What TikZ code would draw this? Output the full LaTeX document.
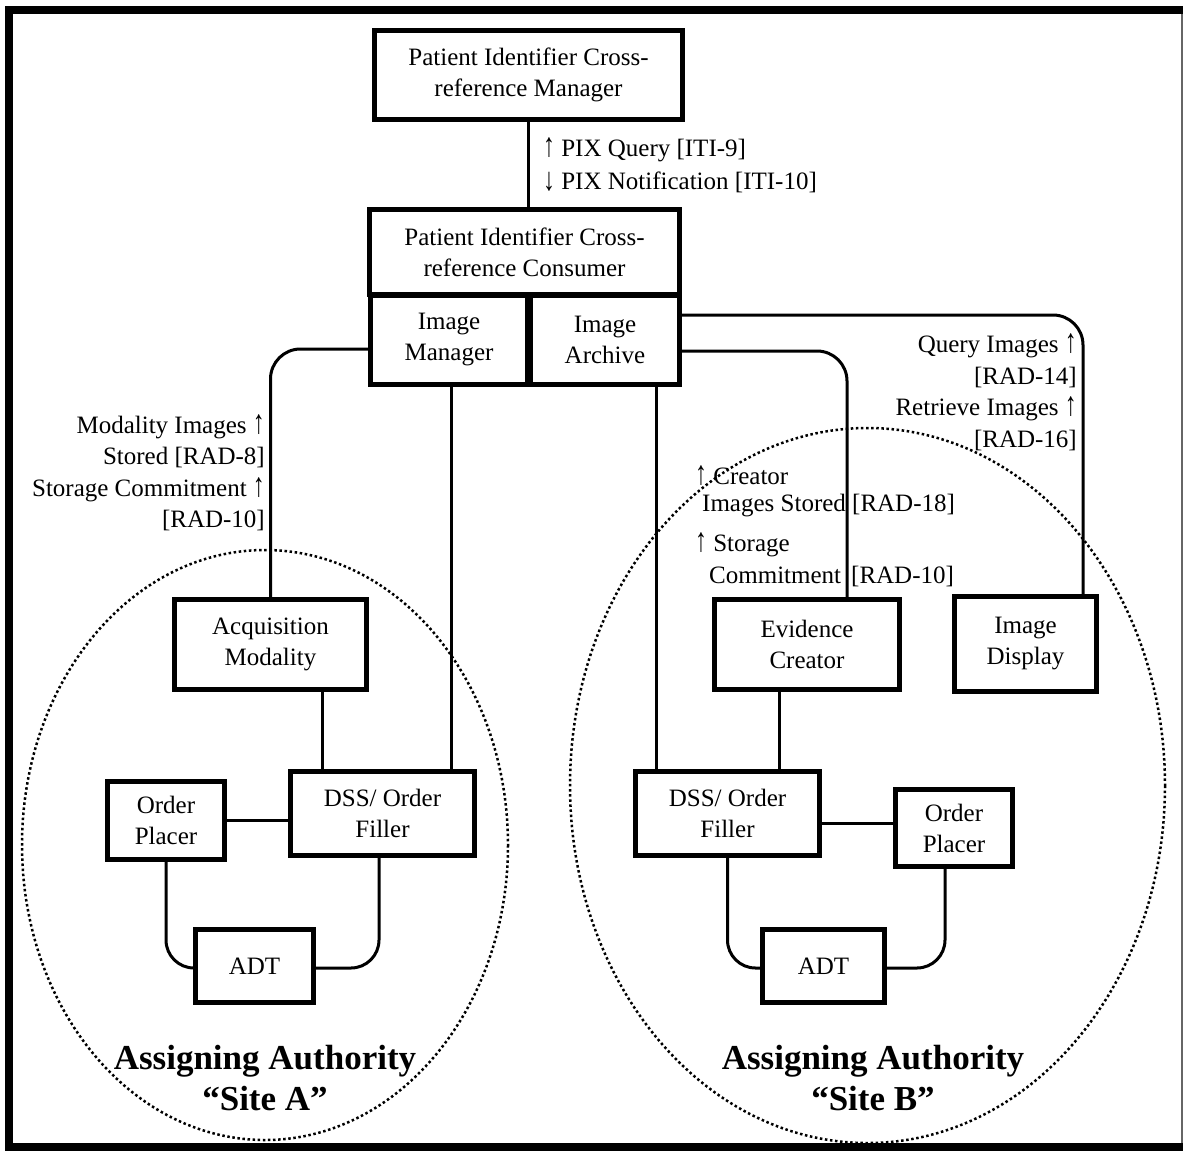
\documentclass[tikz,border=0pt]{standalone}
\usepackage{fontspec}
\usepackage{graphicx}
\setmainfont{Liberation Serif}
\newcommand\myup{\scalebox{0.95}[1.35]{↑}}
\newcommand\mydown{\raisebox{-1pt}{\scalebox{0.95}[1.3]{↓}}}
\begin{document}
\begin{tikzpicture}[x=1pt,y=-1pt,
  box/.style={draw, line width=5pt, rectangle, fill=white, align=center, inner sep=0pt, font=\fontsize{25}{31}\selectfont},
  lbl/.style={inner sep=0pt, font=\fontsize{25}{31.5}\selectfont},
  conn/.style={line width=3pt},
  site/.style={draw, dash pattern=on 2.5pt off 2.6pt, line width=2.5pt},
  big/.style={inner sep=0pt, align=center, font=\fontsize{35}{41}\selectfont\bfseries}]
\useasboundingbox (0,0) rectangle (1183,1151);
% frame
\draw[line width=8pt] (1183,10) -- (9,10) -- (9,1147) -- (1183,1147);
\draw[line width=1.2pt, black!60] (1182,14) -- (1182,1143);
% site ellipses
\draw[site] (265,845) ellipse [x radius=243, y radius=295];
\draw[site] (867.5,785.5) ellipse [x radius=297.5, y radius=357.5];
% boxes
\node[box, minimum width=308pt, minimum height=89pt] (pixm) at (528.5,75) {Patient Identifier Cross-\\reference Manager};
\node[box, minimum width=310pt, minimum height=85pt] (pixc) at (524.5,252) {Patient Identifier Cross-\\reference Consumer};
\node[box, minimum width=157pt, minimum height=89pt] (imgm) at (449,340) {Image\\Manager};
\node[box, minimum width=149pt, minimum height=89pt] (imga) at (605,340) {Image\\Archive};
\node[box, minimum width=192pt, minimum height=90pt] (acq) at (270.5,644.5) {Acquisition\\Modality};
\node[box, minimum width=185pt, minimum height=90pt] (evid) at (807,644.5) {Evidence\\Creator};
\node[box, minimum width=142pt, minimum height=95pt] (disp) at (1025.5,644) {Image\\Display};
\node[box, minimum width=184pt, minimum height=84pt] (dssA) at (382.5,813.5) {DSS/ Order\\Filler};
\node[box, minimum width=117pt, minimum height=78pt] (opA) at (166,820.5) {Order\\Placer};
\node[box, minimum width=118pt, minimum height=73pt] (adtA) at (254.5,966) {ADT};
\node[box, minimum width=184pt, minimum height=84pt] (dssB) at (727.5,813.5) {DSS/ Order\\Filler};
\node[box, minimum width=117pt, minimum height=77pt] (opB) at (954,828) {Order\\Placer};
\node[box, minimum width=122pt, minimum height=73pt] (adtB) at (823.5,966) {ADT};
% connectors
\draw[conn] (pixm.south) -- (pixm.south |- pixc.north);
\draw[conn, rounded corners=30pt] ([yshift=-9pt]imgm.west) -| (acq.north);
\draw[conn] ([xshift=2pt]imgm.south) -- ([xshift=2pt]imgm.south |- dssA.north);
\draw[conn] ([xshift=51.5pt]acq.south) -- ([xshift=51.5pt]acq.south |- dssA.north);
\draw[conn] (opA.east) -- (opA.east -| dssA.west);
\draw[conn, rounded corners=28pt] (opA.south) |- ([yshift=-2pt]adtA.west);
\draw[conn, rounded corners=28pt] ([xshift=-3.5pt]dssA.south) |- ([yshift=-2pt]adtA.east);
\draw[conn] ([xshift=51pt]imga.south) -- ([xshift=51pt]imga.south |- dssB.north);
\draw[conn, rounded corners=30pt] ([yshift=25pt]imga.east) -| ([xshift=57.5pt]disp.north);
\draw[conn, rounded corners=30pt] ([yshift=-11pt]imga.east) -| ([xshift=40pt]evid.north);
\draw[conn] ([xshift=-28pt]evid.south) -- ([xshift=-28pt]evid.south |- dssB.north);
\draw[conn] ([yshift=-10pt]dssB.east) -- ([yshift=-10pt]dssB.east -| opB.west);
\draw[conn, rounded corners=28pt] (dssB.south) |- ([yshift=-2pt]adtB.west);
\draw[conn, rounded corners=28pt] ([xshift=-9pt]opB.south) |- ([yshift=-2pt]adtB.east);
% labels
\node[lbl, anchor=west, align=left, font=\fontsize{25}{33}\selectfont] (lpix) at (543,165) {\myup{} PIX Query [ITI-9]\\\mydown{} PIX Notification [ITI-10]};
\node[lbl, anchor=east, align=right] (lmod) at (265,472.5) {Modality Images \myup\\Stored [RAD-8]\\Storage Commitment \myup\\{}[RAD-10]};
\node[lbl, anchor=east, align=right] (lqry) at (1077,392) {Query Images \myup\\{}[RAD-14]\\Retrieve Images \myup\\{}[RAD-16]};
\node[lbl, anchor=west] (lcr1) at (695,476) {\myup{} Creator};
\node[lbl, anchor=west] (lcr2) at (702,506) {Images Stored [RAD-18]};
\node[lbl, anchor=west] (lst1) at (695,545) {\myup{} Storage};
\node[lbl, anchor=west] (lst2) at (709,576) {Commitment\hspace{10pt}[RAD-10]};
\node[big] (siteA) at (265,1078) {Assigning Authority\\“Site A”};
\node[big] (siteB) at (873,1078) {Assigning Authority\\“Site B”};
\end{tikzpicture}
\end{document}
